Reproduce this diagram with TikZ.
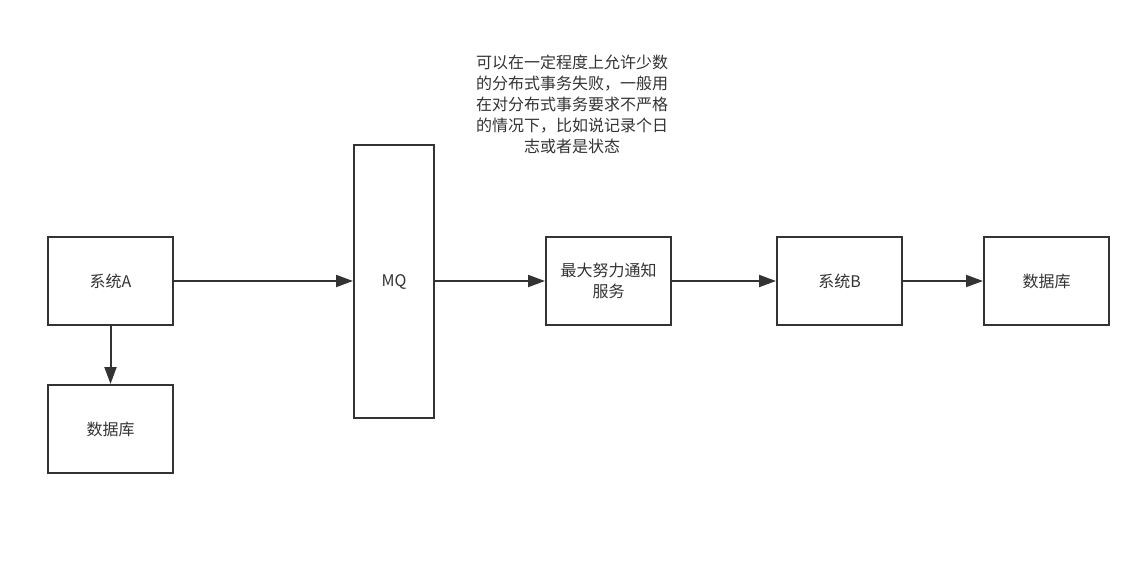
\documentclass[tikz,border=0pt]{standalone}
\usepackage{fontspec}
\setmainfont{Noto Sans CJK SC}
\usetikzlibrary{arrows.meta, positioning}
\definecolor{linegray}{HTML}{333333}
\definecolor{textgray}{HTML}{333333}

\begin{document}
\begin{tikzpicture}[
    x=1pt, y=-1pt,
    box/.style={
        rectangle, draw=linegray, line width=2pt, fill=white,
        minimum width=125pt, minimum height=88pt, inner sep=0pt,
        font=\fontsize{16}{21}\selectfont, text=textgray, align=center
    },
    note/.style={
        font=\fontsize{16}{21}\selectfont, text=textgray, align=center,
        inner sep=0pt
    },
    arr/.style={-{Triangle[length=17pt, width=12pt]}, line width=2pt, linegray}
]
\useasboundingbox (0,0) rectangle (1146,581);

% --- Boxes ---
\node[box] (sysa) at (110.5,281) {系统A};
\node[box] (dba) at (110.5,429) {数据库};
\node[box, minimum width=80pt, minimum height=273pt] (mq) at (394,281.5) {MQ};
\node[box] (notify) at (608.5,281) {最大努力通知\\服务};
\node[box] (sysb) at (839.5,281) {系统B};
\node[box] (dbb) at (1046.5,281) {数据库};

% --- Note ---
\node[note] (remark) at (572,104)
      {可以在一定程度上允许少数\\的分布式事务失败，一般用\\在对分布式事务要求不严格\\的情况下，比如说记录个日\\志或者是状态};

% --- Arrows ---
\draw[arr] (sysa.east) -- (sysa.east -| mq.west);
\draw[arr] (sysa.south) -- (dba.north);
\draw[arr] (mq.east |- notify.west) -- (notify.west);
\draw[arr] (notify.east) -- (sysb.west);
\draw[arr] (sysb.east) -- (dbb.west);
\end{tikzpicture}
\end{document}
